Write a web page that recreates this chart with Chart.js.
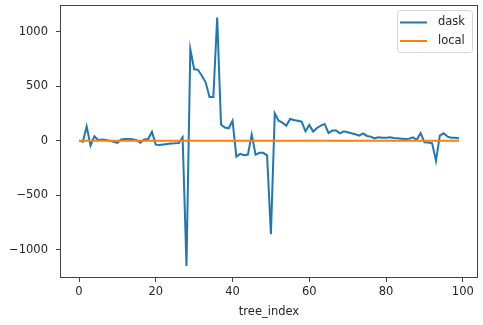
<!DOCTYPE html>
<html>
<head>
<meta charset="utf-8">
<script src="https://cdn.jsdelivr.net/npm/chart.js@4"></script>
<style>
  html, body { margin: 0; padding: 0; background: #fff; }
  #wrap { width: 483px; height: 325px; }
</style>
</head>
<body>
<div id="wrap"><canvas id="grafico" width="483" height="325"></canvas></div>
<script>
// tree_index values (x axis)
const treeIndex = [
  0, 1, 2, 3, 4, 5, 6, 7, 8, 9, 10, 11, 12, 13, 14, 15, 16, 17, 18, 19,
  20, 21, 22, 23, 24, 25, 26, 27, 28, 29, 30, 31, 32, 33, 34, 35, 36, 37, 38, 39,
  40, 41, 42, 43, 44, 45, 46, 47, 48, 49, 50, 51, 52, 53, 54, 55, 56, 57, 58, 59,
  60, 61, 62, 63, 64, 65, 66, 67, 68, 69, 70, 71, 72, 73, 74, 75, 76, 77, 78, 79,
  80, 81, 82, 83, 84, 85, 86, 87, 88, 89, 90, 91, 92, 93, 94, 95, 96, 97, 98, 99
];

const daskValues = [
  0, -10, 130, -45, 40, 5, 10, 5, 0, -10,
  -20, 10, 15, 15, 12, 5, -20, 10, 15, 80,
  -37, -40, -35, -30, -27, -25, -22, 30, -1150, 840,
  655, 650, 596, 535, 400, 400, 1130, 147, 120, 113,
  183, -147, -122, -134, -128, 55, -130, -112, -112, -135,
  -860, 250, 183, 165, 137, 199, 190, 183, 174, 86,
  144, 83, 116, 137, 153, 70, 92, 92, 67, 86,
  77, 67, 58, 46, 67, 43, 37, 21, 30, 27,
  27, 30, 24, 21, 18, 15, 18, 30, 8, 70,
  -15, -18, -25, -185, 46, 67, 37, 27, 27, 21
];

const localValues = [
  0, 0, 0, 0, 0, 0, 0, 0, 0, 0, 0, 0, 0, 0, 0, 0, 0, 0, 0, 0,
  0, 0, 0, 0, 0, 0, 0, 0, 0, 0, 0, 0, 0, 0, 0, 0, 0, 0, 0, 0,
  0, 0, 0, 0, 0, 0, 0, 0, 0, 0, 0, 0, 0, 0, 0, 0, 0, 0, 0, 0,
  0, 0, 0, 0, 0, 0, 0, 0, 0, 0, 0, 0, 0, 0, 0, 0, 0, 0, 0, 0,
  0, 0, 0, 0, 0, 0, 0, 0, 0, 0, 0, 0, 0, 0, 0, 0, 0, 0, 0, 0
];

const xTicks = [0, 20, 40, 60, 80, 100];
const yTicks = [-1000, -500, 0, 500, 1000];
const seriesNames = ["dask", "local"];
const seriesColors = ["#1f77b4", "#ff7f0e"];

const FONT = "'DejaVu Sans', sans-serif";
const FS = 11.5;

// formato matplotlib: sem separador de milhar, sinal de menos unicode
const fmt = (v) => (v < 0 ? "\u2212" + Math.abs(v) : String(v));

// moldura completa (spines) e legenda estilo matplotlib
const molduraPlugin = {
  id: "moldura",
  afterDraw(chart) {
    const { ctx, chartArea: a } = chart;
    ctx.save();
    ctx.strokeStyle = "#444";
    ctx.lineWidth = 1;
    ctx.strokeRect(a.left + 0.5, a.top + 0.5, a.right - a.left - 1, a.bottom - a.top - 1);

    // legenda
    const bw = 75, bh = 42;
    const bx = a.right - 81, by = a.top + 5;
    ctx.fillStyle = "rgba(255,255,255,0.8)";
    ctx.strokeStyle = "#d6d6d6";
    ctx.beginPath();
    ctx.roundRect(bx + 0.5, by + 0.5, bw, bh, 3);
    ctx.fill();
    ctx.stroke();
    ctx.font = FS + "px " + FONT;
    ctx.textBaseline = "middle";
    seriesNames.forEach((nome, i) => {
      const ly = by + 12.5 + i * 18.5;
      ctx.strokeStyle = seriesColors[i];
      ctx.lineWidth = 2;
      ctx.beginPath();
      ctx.moveTo(bx + 3, ly);
      ctx.lineTo(bx + 30, ly);
      ctx.stroke();
      ctx.fillStyle = "#262626";
      ctx.fillText(nome, bx + 41, ly);
    });
    ctx.restore();
  },
};

const ctx = document.getElementById("grafico");
new Chart(ctx, {
  type: "line",
  data: {
    datasets: [
      {
        label: seriesNames[0],
        data: treeIndex.map((x, i) => ({ x: x, y: daskValues[i] })),
        borderColor: seriesColors[0],
        borderWidth: 2,
        pointRadius: 0,
        tension: 0,
        order: 1,
      },
      {
        label: seriesNames[1],
        data: treeIndex.map((x, i) => ({ x: x, y: localValues[i] })),
        borderColor: seriesColors[1],
        borderWidth: 2,
        pointRadius: 0,
        tension: 0,
        order: 0,
      },
    ],
  },
  options: {
    responsive: false,
    animation: false,
    devicePixelRatio: 1,
    layout: { padding: { left: 0, right: 5, top: 5, bottom: 0 } },
    plugins: { legend: { display: false }, tooltip: { enabled: false } },
    scales: {
      x: {
        type: "linear",
        min: -4.95,
        max: 103.95,
        afterBuildTicks: (s) => { s.ticks = xTicks.map((v) => ({ value: v })); },
        afterFit: (s) => { s.height = 47; s.paddingLeft = 0; s.paddingRight = 0; },
        grid: { drawOnChartArea: false, drawTicks: true, tickLength: 4, tickColor: "#444" },
        border: { display: false },
        ticks: { color: "#262626", font: { family: FONT, size: FS }, padding: 3, maxRotation: 0, callback: fmt },
        title: { display: true, text: "tree_index", color: "#262626", font: { family: FONT, size: FS }, padding: { top: 2, bottom: 6 } },
      },
      y: {
        type: "linear",
        min: -1261,
        max: 1245,
        afterBuildTicks: (s) => { s.ticks = yTicks.map((v) => ({ value: v })); },
        afterFit: (s) => { s.width = 60; s.paddingTop = 0; s.paddingBottom = 0; },
        grid: { drawOnChartArea: false, drawTicks: true, tickLength: 4, tickColor: "#444" },
        border: { display: false },
        ticks: { color: "#262626", font: { family: FONT, size: FS }, padding: 8, callback: fmt },
      },
    },
  },
  plugins: [molduraPlugin],
});
</script>
</body>
</html>
